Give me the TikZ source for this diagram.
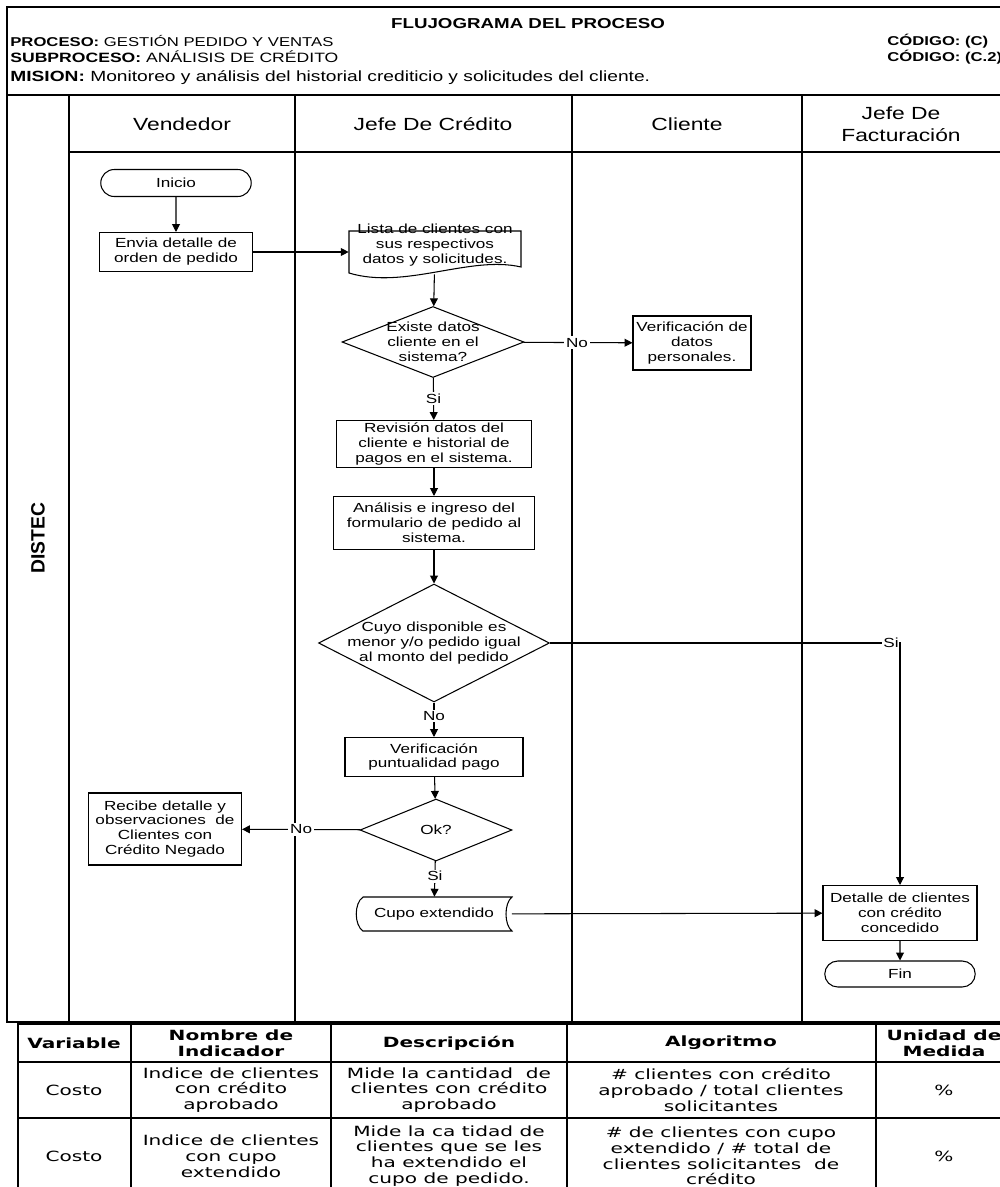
\documentclass[tikz,border=0pt]{standalone}
\usepackage{fontspec}
\setmainfont{Liberation Sans}[FakeStretch=1.3]
\newfontfamily\fuentedistec{Liberation Sans}
\newfontfamily\fuentetabla{DejaVu Sans}[FakeStretch=1.43]
\usetikzlibrary{arrows.meta,
                shapes.geometric,
                shapes.misc,
                positioning}

\begin{document}
\begin{tikzpicture}[x=0.02cm, y=-0.02cm,
        base/.style={font=\fontsize{7.5}{8.5}\selectfont, align=center, inner sep=1pt},
        proceso/.style={base, draw, line width=0.6pt, rectangle},
        terminal/.style={base, draw, line width=0.6pt, rounded rectangle},
        decision/.style={draw, line width=0.6pt, diamond, inner sep=0pt},
        etiqueta/.style={font=\fontsize{7.5}{8.5}\selectfont, fill=white, inner sep=1pt},
        flecha/.style={line width=0.6pt, -{Triangle[length=4.5pt, width=4.5pt]}},
        carril/.style={font=\fontsize{10}{12.5}\selectfont, align=center},
        cabecera/.style={font=\fontsize{7.3}{8.5}\selectfont, anchor=west, inner sep=0pt},
        tabla/.style={font=\fuentetabla\fontsize{8}{9}\selectfont, align=center}]
        \useasboundingbox (0,0) rectangle (1000,1187);
        \clip (0,0) rectangle (1000,1187);

        % marco y carriles
        \draw [line width=1.1pt] (7,7) rectangle (1006,1022);
        \draw [line width=1.1pt] (7,95) -- (1006,95);
        \draw [line width=0.9pt] (69,152) -- (1006,152);
        \foreach \x in {69,295,572,802}
            \draw [line width=0.9pt] (\x,95) -- (\x,1022);

        \node [font=\bfseries\fontsize{8.2}{10}\selectfont] (titulo) at (528,24) {FLUJOGRAMA DEL PROCESO};
        \node [cabecera] (proc) at (10,41) {\textbf{PROCESO:} GESTIÓN PEDIDO Y VENTAS};
        \node [cabecera, font=\fontsize{7.7}{9}\selectfont] (subproc) at (10,57) {\textbf{SUBPROCESO:} ANÁLISIS DE CRÉDITO};
        \node [cabecera, font=\fontsize{8.4}{10}\selectfont] (mision) at (10,78) {\textbf{MISION:} Monitoreo y análisis del historial crediticio y solicitudes del cliente.};
        \node [cabecera, font=\bfseries\fontsize{7.3}{8.5}\selectfont] (codproc) at (887,41) {CÓDIGO: (C)};
        \node [cabecera, font=\bfseries\fontsize{7.3}{8.5}\selectfont] (codsub) at (887,57) {CÓDIGO: (C.2)};

        \node [carril] (vendedor) at (182,124) {Vendedor};
        \node [carril] (jefecredito) at (433,124) {Jefe De Crédito};
        \node [carril] (cliente) at (687,124) {Cliente};
        \node [carril] (jefefact) at (901,124) {Jefe De\\Facturación};
        \node [rotate=90, font=\fuentedistec\bfseries\fontsize{11}{13}\selectfont] (distec) at (38,538) {DISTEC};

        % nodos del flujo
        \node [terminal, minimum width=3.08cm, minimum height=0.54cm] (inicio) at (176,183) {Inicio};
        \node [proceso, minimum width=3.06cm, minimum height=0.78cm] (envia) at (176,252) {Envia detalle de\\orden de pedido};
        \draw [line width=0.6pt] (349,231) -- (521,231) -- (521,267) .. controls (470,255) and (405,290) .. (349,273) -- cycle;
        \node [base, minimum width=3.44cm, minimum height=1.16cm] (lista) at (435,245) {Lista de clientes con\\sus respectivos\\datos y solicitudes.};
        \node [decision, minimum width=3.64cm, minimum height=1.42cm,
               label={[base]center:{Existe datos\\cliente en el\\sistema?}}] (existe) at (433,342) {};
        \node [proceso, minimum width=2.36cm, minimum height=1.08cm] (verifdatos) at (692,343) {Verificación de\\datos\\personales.};
        \node [proceso, minimum width=3.9cm, minimum height=0.94cm] (revision) at (434,444) {Revisión datos del\\cliente e historial de\\pagos en el sistema.};
        \node [proceso, minimum width=4.02cm, minimum height=1.06cm] (analisis) at (434,523) {Análisis e ingreso del\\formulario de pedido al\\sistema.};
        \node [decision, minimum width=4.62cm, minimum height=2.36cm,
               label={[base]center:{Cuyo disponible es\\menor y/o pedido igual\\al monto del pedido}}] (cuyo) at (434,643) {};
        \node [proceso, minimum width=3.56cm, minimum height=0.78cm] (verifpunt) at (434,757) {Verificación\\puntualidad pago};
        \node [decision, minimum width=3.04cm, minimum height=1.24cm,
               label={[base]center:{Ok?}}] (ok) at (436,830) {};
        \node [proceso, minimum width=3.06cm, minimum height=1.44cm] (recibe) at (165,829) {Recibe detalle y\\observaciones\ \ de\\Clientes con\\Crédito Negado};
        \draw [line width=0.6pt] (363,897) -- (512,897) .. controls (504,903) and (504,925) .. (512,931) -- (363,931) .. controls (354,925) and (354,903) .. (363,897) -- cycle;
        \node [base, minimum width=3.1cm, minimum height=0.68cm] (cupo) at (434,914) {Cupo extendido};
        \node [proceso, minimum width=3.08cm, minimum height=1.1cm] (detalle) at (900,913) {Detalle de clientes\\con crédito\\concedido};
        \node [terminal, minimum width=3.08cm, minimum height=0.52cm] (fin) at (900,974) {Fin};

        % conectores
        \draw [flecha] (inicio) -- (envia);
        \draw [flecha] (envia) -- (envia -| lista.west);
        \draw [flecha] (lista) -- (existe);
        \draw [flecha] (existe) -- node [etiqueta, pos=0.49] {No} (verifdatos);
        \draw [flecha] (existe) -- node [etiqueta, pos=0.49] {Si} (revision);
        \draw [flecha] (revision) -- (analisis);
        \draw [flecha] (analisis) -- (cuyo);
        \draw [flecha] (cuyo.east) -| node [etiqueta, pos=0.5, anchor=east, inner sep=0.5pt] {Si} (detalle.north);
        \draw [flecha] (cuyo) -- node [etiqueta, pos=0.39] {No} (verifpunt);
        \draw [flecha] (verifpunt) -- (ok);
        \draw [flecha] (ok) -- node [etiqueta, pos=0.5] {No} (recibe);
        \draw [flecha] (ok) -- node [etiqueta, pos=0.42] {Si} (cupo);
        \draw [flecha] (cupo) -- (detalle);
        \draw [flecha] (detalle) -- (fin);

        % tabla de indicadores
        \draw [line width=0.8pt] (18,1024) rectangle (1012,1192);
        \draw [line width=0.8pt] (18,1062) -- (1012,1062);
        \draw [line width=0.8pt] (18,1118) -- (1012,1118);
        \foreach \x in {131,331,567,876}
            \draw [line width=0.8pt] (\x,1024) -- (\x,1192);

        \node [tabla, font=\fuentetabla\bfseries\fontsize{8}{9}\selectfont] (hvar) at (74,1043) {Variable};
        \node [tabla, font=\fuentetabla\bfseries\fontsize{8}{9}\selectfont] (hnom) at (231,1043) {Nombre de\\Indicador};
        \node [tabla, font=\fuentetabla\bfseries\fontsize{8}{9}\selectfont] (hdes) at (449,1043) {Descripción};
        \node [tabla, font=\fuentetabla\bfseries\fontsize{8}{9}\selectfont] (halg) at (721,1043) {Algoritmo};
        \node [tabla, font=\fuentetabla\bfseries\fontsize{8}{9}\selectfont] (huni) at (944,1043) {Unidad de\\Medida};

        \node [tabla] (var1) at (74,1090) {Costo};
        \node [tabla] (nom1) at (231,1090) {Indice de clientes\\con crédito\\aprobado};
        \node [tabla] (des1) at (449,1090) {Mide la cantidad\ \ de\\clientes con crédito\\aprobado};
        \node [tabla] (alg1) at (721,1090) {\# clientes con crédito\\aprobado / total clientes\\solicitantes};
        \node [tabla] (uni1) at (944,1090) {\%};

        \node [tabla] (var2) at (74,1156) {Costo};
        \node [tabla] (nom2) at (231,1156) {Indice de clientes\\con cupo\\extendido};
        \node [tabla] (des2) at (449,1156) {Mide la ca tidad de\\clientes que se les\\ha extendido el\\cupo de pedido.};
        \node [tabla] (alg2) at (721,1156) {\# de clientes con cupo\\extendido / \# total de\\clientes solicitantes\ \ de\\crédito};
        \node [tabla] (uni2) at (944,1156) {\%};
    \end{tikzpicture}
\end{document}
